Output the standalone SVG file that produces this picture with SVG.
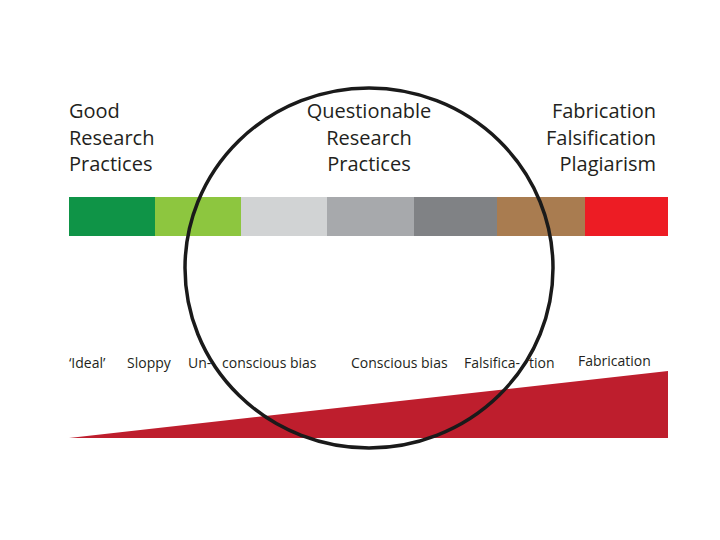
<svg xmlns="http://www.w3.org/2000/svg" width="720" height="540" viewBox="0 0 720 540">
<style>
.h{font-family:"Open Sans","Noto Sans","Liberation Sans",sans-serif;font-size:20px;fill:#231f20}
.s{font-family:"Open Sans","Noto Sans","Liberation Sans",sans-serif;font-size:14px;fill:#231f20}
</style>
<rect width="720" height="540" fill="#ffffff"/>
<g id="heading-good">
<text class="h" x="69" y="118">Good</text>
<text class="h" x="69" y="145">Research</text>
<text class="h" x="69" y="171">Practices</text>
</g>
<g id="heading-qrp" text-anchor="middle">
<text class="h" x="369" y="118">Questionable</text>
<text class="h" x="369" y="145">Research</text>
<text class="h" x="369" y="171">Practices</text>
</g>
<g id="heading-ffp" text-anchor="end">
<text class="h" x="656" y="118">Fabrication</text>
<text class="h" x="656" y="145">Falsification</text>
<text class="h" x="656" y="171">Plagiarism</text>
</g>
<g id="bar">
<rect x="69" y="197" width="86" height="39" fill="#0f9447"/>
<rect x="155" y="197" width="86" height="39" fill="#8dc63f"/>
<rect x="241" y="197" width="86" height="39" fill="#d1d3d4"/>
<rect x="327" y="197" width="87" height="39" fill="#a7a9ac"/>
<rect x="414" y="197" width="83" height="39" fill="#808285"/>
<rect x="497" y="197" width="88" height="39" fill="#a97c50"/>
<rect x="585" y="197" width="83" height="39" fill="#ed1c24"/>
</g>
<g id="wedge">
<polygon points="69,438 668,371 668,438" fill="#be1e2d"/>
</g>
<g id="labels">
<text class="s" x="69" y="368">‘Ideal’</text>
<text class="s" x="127" y="368">Sloppy</text>
<text class="s" x="188" y="368">Un-</text>
<text class="s" x="222" y="368">conscious bias</text>
<text class="s" x="351" y="368">Conscious bias</text>
<text class="s" x="464" y="368">Falsifica-</text>
<text class="s" x="529" y="368">tion</text>
<text class="s" x="578" y="366">Fabrication</text>
</g>
<g id="circle">
<ellipse cx="369" cy="268" rx="184" ry="180" fill="none" stroke="#1a1a1a" stroke-width="3.5"/>
</g>
</svg>
